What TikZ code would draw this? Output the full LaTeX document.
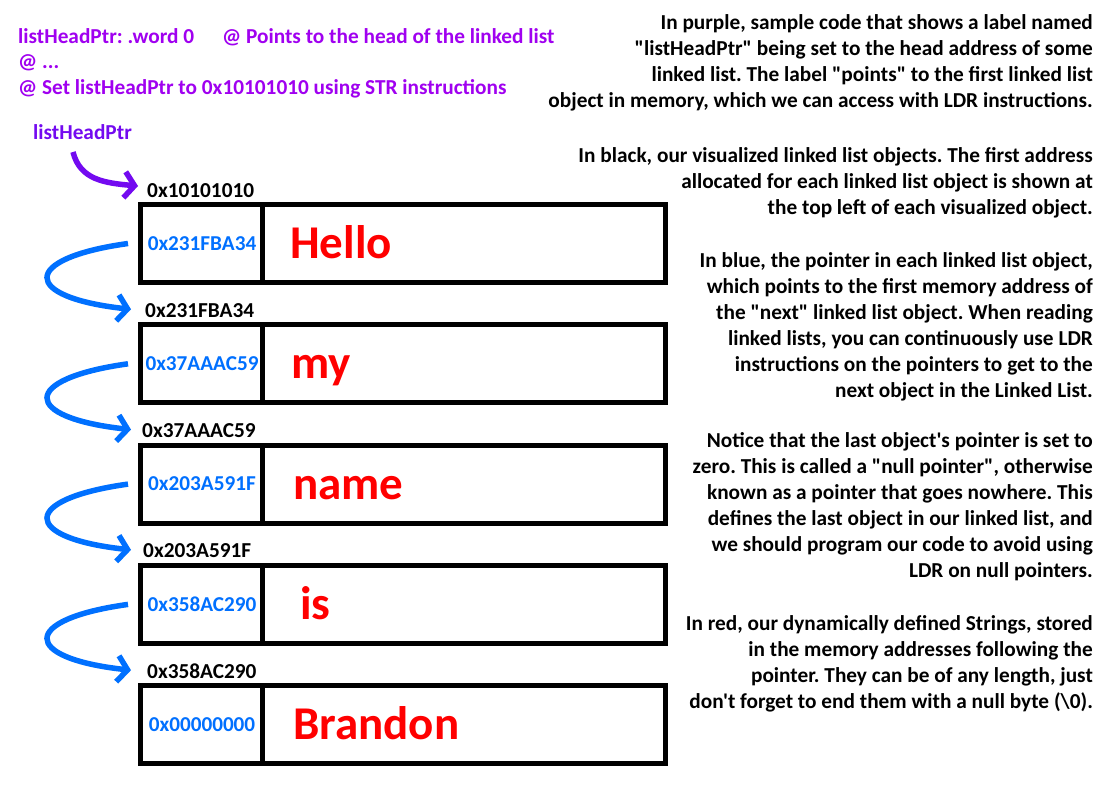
\documentclass[tikz,border=0pt]{standalone}
\usepackage{fontspec}
\setmainfont{Carlito}[Ligatures=TeXOff]
\usetikzlibrary{arrows.meta,calc}
\frenchspacing
\definecolor{codepurple}{RGB}{160,0,240}
\definecolor{lblpurple}{RGB}{115,10,240}
\definecolor{ptrblue}{RGB}{0,112,255}
\definecolor{strred}{RGB}{255,0,0}
\tikzset{
  objbox/.style={draw=black,line width=5pt,minimum width=525pt,minimum height=78pt,inner sep=0pt},
  divider/.style={draw=black,line width=5pt},
  addr/.style={anchor=base west,inner sep=0pt,font=\fontsize{21.3}{26}\selectfont\bfseries,text=black},
  ptrtxt/.style={inner sep=0pt,font=\fontsize{21.2}{24}\selectfont\bfseries,text=ptrblue},
  strtxt/.style={anchor=base west,inner sep=0pt,font=\fontsize{47}{52}\selectfont\bfseries,text=strred},
  codetxt/.style={anchor=base west,inner sep=0pt,font=\fontsize{21.3}{26}\selectfont\bfseries,text=codepurple},
  note/.style={anchor=north east,inner sep=0pt,align=right,font=\fontsize{21.3}{26}\selectfont\bfseries,text=black},
  nextarrow/.style={draw=ptrblue,line width=5.5pt,-{Straight Barb[length=10pt,width=26pt]}},
  headarrow/.style={draw=lblpurple,line width=5.5pt,-{Straight Barb[length=10pt,width=26pt]}}
}
\begin{document}
\begin{tikzpicture}[x=1pt,y=-1pt]
\useasboundingbox (0,0) rectangle (1100,800);
\fill[white] (0,0) rectangle (1100,800);

% code
\node[codetxt] (c1) at (18,44) {listHeadPtr: .word 0};
\node[codetxt] (c1b) at (222,44) {@ Points to the head of the linked list};
\node[codetxt] (c2) at (18,69) {@ ...};
\node[codetxt] (c3) at (18,95) {@ Set listHeadPtr to 0x10101010 using STR instructions};
\node[anchor=base west,inner sep=0pt,font=\fontsize{21.3}{26}\selectfont\bfseries,text=lblpurple] (lhp) at (33,139) {listHeadPtr};

% boxes
\foreach \k/\addrtxt/\ax/\ptr/\word/\wx in {
  0/0x10101010/147/0x231FBA34/Hello/290,
  1/0x231FBA34/145/0x37AAAC59/my/291,
  2/0x37AAAC59/142/0x203A591F/name/293,
  3/0x203A591F/143/0x358AC290/is/300,
  4/0x358AC290/147/0x00000000/Brandon/293}{
  \pgfmathsetmacro{\cy}{243.5+120.3*\k}
  \pgfmathsetmacro{\ay}{197+120.3*\k}
  \pgfmathsetmacro{\by}{\cy+15}
  \node[objbox] (b\k) at (403,\cy) {};
  \draw[divider] (262,\cy-39) -- (262,\cy+39);
  \node[ptrtxt] (p\k) at (202,\cy) {\ptr};
  \node[addr] (a\k) at (\ax,\ay) {\addrtxt};
  \node[strtxt] (s\k) at (\wx,\by) {\word};
}

% head arrow
\coordinate (hs) at (73,152);
\coordinate (ht) at (138,186);
\draw[headarrow] (hs) .. controls (80,180) and (105,183) .. (ht);

% next arrows
\foreach \k/\n in {0/1,1/2,2/3,3/4}{
  \coordinate (st\k) at ($(b\k.west)+(-10,0)$);
  \coordinate (en\n) at ($(b\n.north west)+(-7,-13)$);
  \draw[nextarrow] (st\k) .. controls +(-108,15) and +(-110,-12) .. (en\n);
}

% notes
\node[note] (n1) at (1093,14) {In purple, sample code that shows a label named\\"listHeadPtr" being set to the head address of some\\linked list. The label "points" to the first linked list\\object in memory, which we can access with LDR instructions.};
\node[note] (n2) at (1093,147) {In black, our visualized linked list objects. The first address\\allocated for each linked list object is shown at\\the top left of each visualized object.};
\node[note] (n3) at (1093,252) {In blue, the pointer in each linked list object,\\which points to the first memory address of\\the "next" linked list object. When reading\\linked lists, you can continuously use LDR\\instructions on the pointers to get to the\\next object in the Linked List.};
\node[note] (n4) at (1093,432) {Notice that the last object's pointer is set to\\zero. This is called a "null pointer", otherwise\\known as a pointer that goes nowhere. This\\defines the last object in our linked list, and\\we should program our code to avoid using\\LDR on null pointers.};
\node[note] (n5) at (1093,615) {In red, our dynamically defined Strings, stored\\in the memory addresses following the\\pointer. They can be of any length, just\\don't forget to end them with a null byte (\textbackslash 0).};
\end{tikzpicture}
\end{document}
